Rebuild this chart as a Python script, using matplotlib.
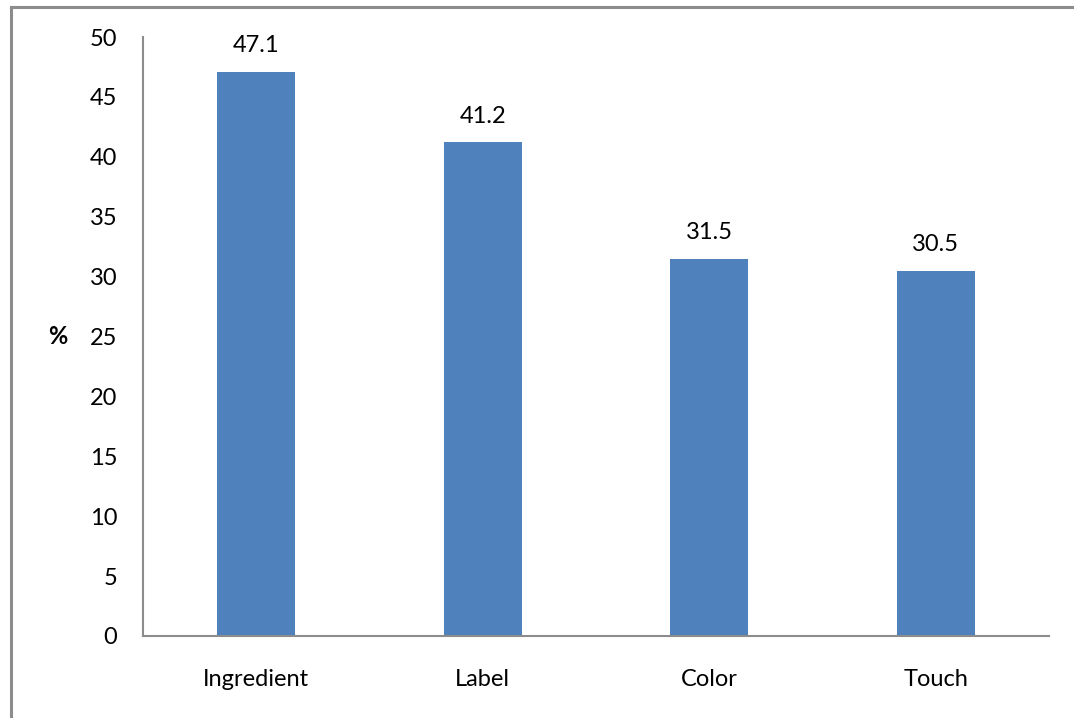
import matplotlib.pyplot as plt
from matplotlib.lines import Line2D

categories = ['Ingredient', 'Label', 'Color', 'Touch']
values = [47.1, 41.2, 31.5, 30.5]

plt.rcParams['font.family'] = ['Lato', 'DejaVu Sans']
FS = 17

W, H = 1074, 718
fig = plt.figure(figsize=(W / 100, H / 100), dpi=100)

# outer chart-area border: left and top edges only (the rest falls off the canvas)
bx, by = 10.5 / W, 1 - 6.5 / H
border = dict(transform=fig.transFigure, color='#8c8c8c', linewidth=2.2)
fig.lines.append(Line2D([bx, bx], [0, by], **border))
fig.lines.append(Line2D([bx, 1], [by, by], **border))

ax = fig.add_axes([143 / W, 1 - 636 / H, (1049 - 143) / W, (636 - 37) / H])

x = range(len(categories))
ax.bar(x, values, width=0.345, color='#4f81bd')

for xi, v in zip(x, values):
    ax.text(xi, v + 1.3, f'{v}', ha='center', va='bottom', fontsize=FS)

ax.set_xlim(-0.5, 3.5)
ax.set_ylim(0, 50)
ax.set_yticks(range(0, 51, 5))
ax.set_xticks(list(x))
ax.set_xticklabels(categories)
ax.tick_params(axis='both', length=0, labelsize=FS)
ax.tick_params(axis='y', pad=18.5)
ax.tick_params(axis='x', pad=23.5)

for side in ['top', 'right']:
    ax.spines[side].set_visible(False)
for side in ['left', 'bottom']:
    ax.spines[side].set_color('#8c8c8c')
    ax.spines[side].set_linewidth(1.5)

ax.set_ylabel('%', rotation=0, fontsize=FS, fontweight='bold', labelpad=23, va='center')

fig.savefig('out.png', dpi=100)
